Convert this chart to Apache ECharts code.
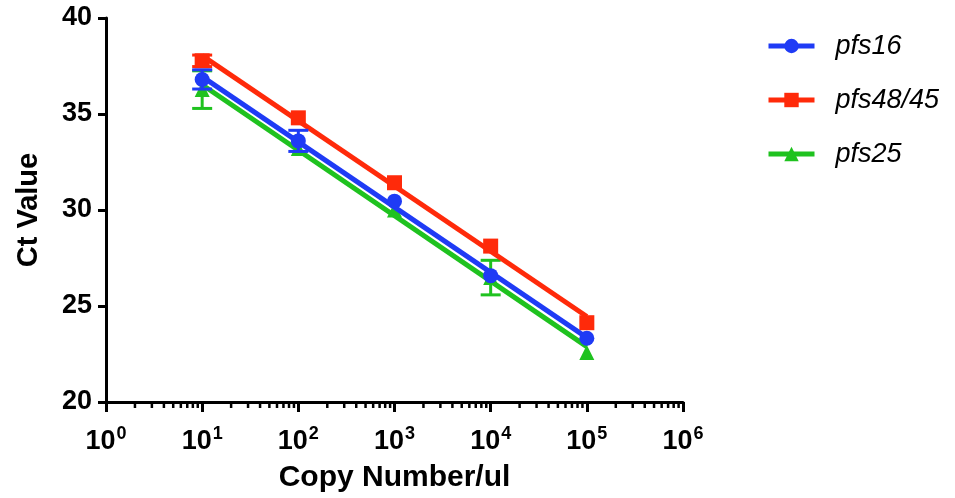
<!DOCTYPE html>
<html>
<head>
<meta charset="utf-8">
<script src="https://cdn.jsdelivr.net/npm/echarts@6/dist/echarts.min.js"></script>
<style>
html,body{margin:0;padding:0;background:#fff;}
#chart{width:955px;height:498px;}
</style>
</head>
<body>
<div id="chart"></div>
<script>
// ---- data ----
const copyNumbers = [10, 100, 1000, 10000, 100000];
const seriesNames = ['pfs16', 'pfs48/45', 'pfs25'];
const pfs16Mean = [36.80, 33.60, 30.46, 26.58, 23.32];
const pfs16Sd   = [0.50, 0.55, 0, 0, 0];
const pfs4845Mean = [37.77, 34.80, 31.42, 28.12, 24.13];
const pfs4845Sd   = [0.30, 0, 0, 0, 0];
const pfs25Mean = [36.27, 33.20, 30.00, 26.48, 22.58];
const pfs25Sd   = [0.98, 0, 0, 0.90, 0];
const xTickExponents = [0, 1, 2, 3, 4, 5, 6];
const yTicks = [20, 25, 30, 35, 40];

// ---- styling ----
const FONT = "'Liberation Sans', Arial, Helvetica, sans-serif";
const colors = ['#1f3bf5', '#ff2a0a', '#1fc21f'];
const symbols = ['circle', 'rect', 'triangle'];
const zOrder = [6, 4, 2];

function fit(xs, ys) {
  const lx = xs.map(v => Math.log10(v));
  const n = lx.length;
  const mx = lx.reduce((a, b) => a + b, 0) / n;
  const my = ys.reduce((a, b) => a + b, 0) / n;
  let sxy = 0, sxx = 0;
  for (let i = 0; i < n; i++) { sxy += (lx[i] - mx) * (ys[i] - my); sxx += (lx[i] - mx) ** 2; }
  const b = sxy / sxx, a = my - b * mx;
  return x => a + b * Math.log10(x);
}

const means = [pfs16Mean, pfs4845Mean, pfs25Mean];
const sds = [pfs16Sd, pfs4845Sd, pfs25Sd];

const series = [];
seriesNames.forEach((name, i) => {
  const f = fit(copyNumbers, means[i]);
  const x0 = copyNumbers[0], x1 = copyNumbers[copyNumbers.length - 1];
  series.push({
    name: name, type: 'line', z: zOrder[i],
    data: [[x0, f(x0)], [x1, f(x1)]],
    showSymbol: false, symbol: symbols[i], symbolSize: 15,
    lineStyle: { width: 5, color: colors[i] },
    itemStyle: { color: colors[i] },
    silent: true, animation: false
  });
  series.push({
    name: name, type: 'custom', z: zOrder[i] + 1,
    data: copyNumbers.map((x, k) => [x, means[i][k], sds[i][k]]),
    renderItem: function (params, api) {
      const x = api.value(0), m = api.value(1), s = api.value(2);
      if (!(s > 0)) return { type: 'group', children: [] };
      const top = api.coord([x, m + s]);
      const bot = api.coord([x, m - s]);
      const hw = 10;
      const st = { stroke: colors[i], lineWidth: 3 };
      return { type: 'group', children: [
        { type: 'line', shape: { x1: top[0], y1: top[1], x2: bot[0], y2: bot[1] }, style: st },
        { type: 'line', shape: { x1: top[0] - hw, y1: top[1], x2: top[0] + hw, y2: top[1] }, style: st },
        { type: 'line', shape: { x1: bot[0] - hw, y1: bot[1], x2: bot[0] + hw, y2: bot[1] }, style: st }
      ]};
    },
    silent: true, animation: false
  });
  series.push({
    name: name, type: 'scatter', z: zOrder[i] + 1,
    data: copyNumbers.map((x, k) => [x, means[i][k]]),
    symbol: symbols[i], symbolSize: 15,
    itemStyle: { color: colors[i], opacity: 1 },
    silent: true, animation: false
  });
});

// minor log ticks on the x axis
const minorTickValues = [];
for (let e = xTickExponents[0]; e < xTickExponents[xTickExponents.length - 1]; e++) {
  for (let m = 2; m <= 9; m++) minorTickValues.push([m * Math.pow(10, e), yTicks[0]]);
}
series.push({
  type: 'custom', z: 10, silent: true, animation: false, clip: false,
  data: minorTickValues,
  renderItem: function (params, api) {
    const p = api.coord([api.value(0), api.value(1)]);
    return { type: 'line', shape: { x1: p[0], y1: p[1], x2: p[0], y2: p[1] + 6 },
      style: { stroke: '#000', lineWidth: 2.5 } };
  }
});

const chart = echarts.init(document.getElementById('chart'), null, { renderer: 'canvas' });
chart.setOption({
  animation: false,
  backgroundColor: '#fff',
  textStyle: { fontFamily: FONT },
  grid: { left: 106, right: 272, top: 18, bottom: 95, containLabel: false },
  legend: {
    data: seriesNames,
    orient: 'vertical', left: 766, top: 32, padding: 0,
    itemWidth: 46, itemHeight: 18, itemGap: 26,
    selectedMode: false,
    lineStyle: { width: 5 },
    textStyle: { fontFamily: FONT, fontSize: 27, fontStyle: 'italic', color: '#000', lineHeight: 28, padding: [0, 0, 0, 16] }
  },
  xAxis: {
    type: 'log', logBase: 10,
    min: Math.pow(10, xTickExponents[0]), max: Math.pow(10, xTickExponents[xTickExponents.length - 1]),
    name: 'Copy Number/ul', nameLocation: 'middle', nameGap: 61,
    nameTextStyle: { fontFamily: FONT, fontSize: 30, fontWeight: 'bold', color: '#000' },
    axisLine: { onZero: false, lineStyle: { color: '#000', width: 3 } },
    axisTick: { show: true, length: 10, lineStyle: { color: '#000', width: 3 } },
    splitLine: { show: false },
    axisLabel: {
      margin: 23,
      formatter: function (v) {
        const e = Math.round(Math.log10(v));
        return '{b|10}{s|' + e + '}';
      },
      rich: {
        b: { fontFamily: FONT, fontSize: 27, fontWeight: 'bold', color: '#000', lineHeight: 33 },
        s: { fontFamily: FONT, fontSize: 18, fontWeight: 'bold', color: '#000', lineHeight: 18, padding: [0, 0, 15, 1] }
      }
    }
  },
  yAxis: {
    type: 'value', min: yTicks[0], max: yTicks[yTicks.length - 1], interval: yTicks[1] - yTicks[0],
    name: 'Ct Value', nameLocation: 'middle', nameGap: 63,
    nameTextStyle: { fontFamily: FONT, fontSize: 29, fontWeight: 'bold', color: '#000' },
    axisLine: { show: true, lineStyle: { color: '#000', width: 3 } },
    axisTick: { show: true, length: 8, lineStyle: { color: '#000', width: 3 } },
    splitLine: { show: false },
    axisLabel: { margin: 14, fontFamily: FONT, fontSize: 27, fontWeight: 'bold', color: '#000' }
  },
  series: series
});
</script>
</body>
</html>
